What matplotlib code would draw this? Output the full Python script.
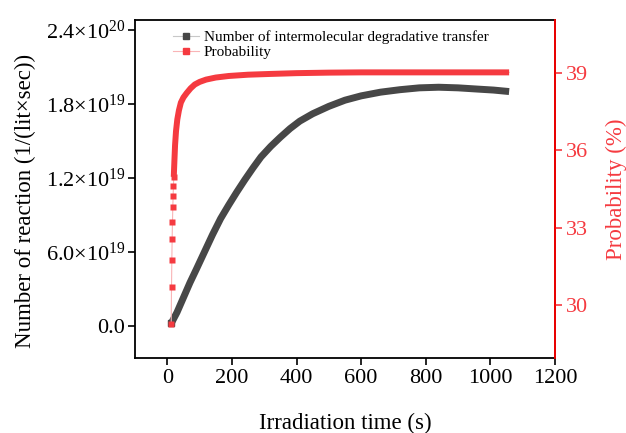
import matplotlib
matplotlib.use("Agg")
import matplotlib.pyplot as plt
from matplotlib.lines import Line2D

plt.rcParams['font.family'] = ['Liberation Serif', 'DejaVu Serif']
plt.rcParams['mathtext.fontset'] = 'custom'
plt.rcParams['mathtext.rm'] = 'Liberation Serif'
plt.rcParams['mathtext.it'] = 'Liberation Serif:italic'
plt.rcParams['mathtext.bf'] = 'Liberation Serif:bold'

# ---- data ----
time_black = [12, 30, 50, 70, 90, 115, 140, 165, 190, 215, 240, 265, 290, 320, 350,
              380, 410, 450, 500, 550, 600, 660, 720, 780, 840, 900, 960, 1010, 1058]
reactions = [0.02e20, 0.11e20, 0.23e20, 0.35e20, 0.46e20, 0.60e20, 0.74e20, 0.87e20,
             0.98e20, 1.085e20, 1.185e20, 1.28e20, 1.37e20, 1.455e20, 1.53e20, 1.60e20,
             1.66e20, 1.72e20, 1.78e20, 1.83e20, 1.865e20, 1.895e20, 1.915e20, 1.93e20,
             1.935e20, 1.93e20, 1.92e20, 1.912e20, 1.90e20]

time_red = [12, 13, 14, 15, 16, 17, 18, 19, 20, 22, 24, 27, 31, 36, 42, 50, 60, 72, 85,
            100, 120, 150, 190, 250, 320, 400, 500, 600, 800, 1058]
probability = [29.25, 30.70, 31.76, 32.58, 33.24, 33.80, 34.23, 34.62, 34.97, 35.6, 36.2,
               36.75, 37.2, 37.55, 37.85, 38.05, 38.22, 38.4, 38.55, 38.65, 38.74, 38.82,
               38.88, 38.93, 38.96, 38.99, 39.01, 39.02, 39.02, 39.02]

left_ticks = [0.0, 0.6e20, 1.2e20, 1.8e20, 2.4e20]
left_ticklabels = ['0.0', '6.0×10$^{\\mathrm{19}}$', '1.2×10$^{\\mathrm{19}}$',
                   '1.8×10$^{\\mathrm{19}}$', '2.4×10$^{\\mathrm{20}}$']
x_ticks = [0, 200, 400, 600, 800, 1000, 1200]
right_ticks = [30, 33, 36, 39]

black_c = '#474747'
red_c = '#F53A40'

fig = plt.figure(figsize=(6.26, 4.33), dpi=100)
ax = fig.add_axes([135/626, 75/433, 420/626, 338/433])

# black series
ax.plot(time_black, reactions, color=black_c, lw=5.0, solid_capstyle='butt',
        solid_joinstyle='round', zorder=2)
ax.plot(time_black[:1], reactions[:1], 's', color=black_c, ms=4.5, zorder=3)

ax.set_xlim(-100, 1200)
ax.set_ylim(-0.26e20, 2.48e20)
ax.set_xticks(x_ticks)
ax.set_yticks(left_ticks)
ax.set_yticklabels(left_ticklabels)
ax.tick_params(axis='both', direction='out', length=5, width=1.2, labelsize=16, pad=3)
ax.tick_params(axis='y', pad=2)
for s in ax.spines.values():
    s.set_linewidth(1.3)
ax.set_xlabel('Irradiation time (s)', fontsize=16.5, labelpad=18)
ax.set_ylabel('Number of reaction (1/(lit×sec))', fontsize=16.5)
ax.yaxis.set_label_coords(-0.235, 0.465)

# red series on twin axis
ax2 = ax.twinx()
ax2.plot(time_red, probability, '-', color='#F9B4B6', lw=0.8, zorder=2)
dense = [i for i, t in enumerate(time_red) if t >= 20]
sparse = [i for i, t in enumerate(time_red) if t <= 20]
ax2.plot([time_red[i] for i in dense], [probability[i] for i in dense],
         color=red_c, lw=4.3, solid_capstyle='butt', solid_joinstyle='round', zorder=3)
ax2.plot([time_red[i] for i in sparse], [probability[i] for i in sparse], 's',
         color=red_c, ms=4.3, mec='none', zorder=4)
ax2.set_ylim(27.95, 41.05)
ax2.set_yticks(right_ticks)
ax2.tick_params(axis='y', direction='out', length=5, width=1.2, labelsize=16,
                colors=red_c, pad=3)
ax2.spines['right'].set_color('red')
ax2.spines['right'].set_linewidth(1.3)
for k in ['left', 'top', 'bottom']:
    ax2.spines[k].set_visible(False)
ax2.set_ylabel('Probability (%)', fontsize=16.5, color=red_c, labelpad=13)

handles = [
    Line2D([0], [0], color='#C8C8C8', lw=0.8, marker='s', ms=5, mfc=black_c, mec=black_c),
    Line2D([0], [0], color='#F9B4B6', lw=0.8, marker='s', ms=5, mfc=red_c, mec=red_c),
]
ax.legend(handles, ['Number of intermolecular degradative transfer', 'Probability'],
          loc='upper left', bbox_to_anchor=(0.065, 1.0), frameon=False, fontsize=11,
          handlelength=1.7, handletextpad=0.3, labelspacing=0.05, borderaxespad=0.3)

fig.savefig('out.png', dpi=100)
